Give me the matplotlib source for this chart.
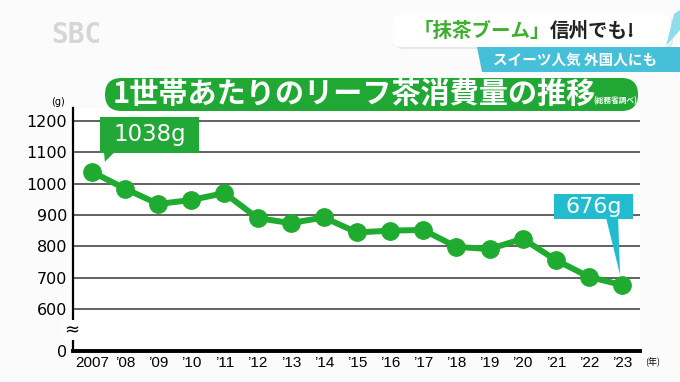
import matplotlib
matplotlib.use('Agg')
import matplotlib.pyplot as plt
from matplotlib.patches import FancyBboxPatch, Polygon

years = ['2007', '’08', '’09', '’10', '’11', '’12', '’13', '’14', '’15',
         '’16', '’17', '’18', '’19', '’20', '’21', '’22', '’23']
values = [1038, 984, 935, 948, 970, 890, 874, 892, 844,
          850, 852, 798, 791, 824, 756, 702, 676]
yticks = [600, 700, 800, 900, 1000, 1100, 1200]
ybottom = 466  # shown as 0 (broken axis)

JP = ['Noto Sans CJK JP', 'DejaVu Sans']
green = '#1fab2f'
cyan = '#22bccf'

fig = plt.figure(figsize=(6.8, 3.82), dpi=100)
fig.patch.set_facecolor('#fbfbfb')

W, H = 680, 382
ax = fig.add_axes([72.7 / W, 31.3 / H, (640 - 72.7) / W, (350.7 - 108) / H])
ax.set_facecolor('white')
x = list(range(len(values)))
ax.plot(x, values, color=green, lw=4.3, marker='o', ms=12.5, zorder=3)
ax.set_xlim(-0.58, 16.54)
ax.set_ylim(ybottom, 1242)

ax.set_yticks([ybottom] + yticks, ['0'] + [str(v) for v in yticks])
ax.set_xticks(x, years)
ax.tick_params(axis='y', length=0, pad=4, labelsize=11.5)
ax.tick_params(axis='x', length=0, pad=3.5, labelsize=11)
for lab in ax.get_xticklabels():
    lab.set_family('Liberation Sans')
ax.yaxis.grid(True, color='#555555', lw=1.3)
ax.set_axisbelow(True)
for s in ['top', 'right']:
    ax.spines[s].set_visible(False)
ax.spines['left'].set_linewidth(1.6)
ax.spines['bottom'].set_linewidth(2.8)

# overlay in pixel coordinates
ov = fig.add_axes([0, 0, 1, 1])
ov.set_xlim(0, W)
ov.set_ylim(H, 0)
ov.axis('off')
ov.patch.set_visible(False)


def to_px(i, v):
    dx, dy = ax.transData.transform((i, v))
    return dx, H - dy


# axis break mark and unit labels
ov.text(71.5, 330, '≈', fontsize=13, ha='center', va='center',
        bbox=dict(facecolor='white', edgecolor='none', pad=0.5))
ov.text(58, 102, '(g)', fontsize=7, ha='center', va='center')
ov.text(653, 362, '(年)', fontsize=6.5, ha='center', va='center', family=JP)

# title pill
ov.add_patch(FancyBboxPatch((105, 78), 533, 33,
                            boxstyle='round,pad=0,rounding_size=16.5',
                            facecolor='#21a834', edgecolor='none'))
ov.text(113, 94, '1世帯あたりのリーフ茶消費量の推移', family=JP, fontsize=21,
        fontweight='bold', color='white', ha='left', va='center')
ov.text(593, 101, '(総務省調べ)', family=JP, fontsize=5.5, fontweight='bold',
        color='white', ha='left', va='center')

# callout for first value
px0, py0 = to_px(0, values[0])
ov.add_patch(FancyBboxPatch((px0 + 8, py0 - 55), 99, 36,
                            boxstyle='square,pad=0', facecolor='#22a836',
                            edgecolor='none'))
ov.add_patch(Polygon([(px0 + 12, py0 - 20), (px0 + 23, py0 - 20),
                      (px0 + 13, py0 - 10)], facecolor='#22a836',
                     edgecolor='none'))
ov.text(px0 + 57.5, py0 - 37, f'{values[0]}g', fontsize=16.5, color='white',
        ha='center', va='center')

# callout for last value
px1, py1 = to_px(len(values) - 1, values[-1])
ov.add_patch(FancyBboxPatch((px1 - 68, py1 - 91), 79, 25,
                            boxstyle='square,pad=0', facecolor=cyan,
                            edgecolor='none'))
ov.add_patch(Polygon([(px1 - 16, py1 - 67), (px1 - 4, py1 - 67),
                      (px1 - 2, py1 - 10)], facecolor=cyan, edgecolor='none'))
ov.text(px1 - 28.5, py1 - 78, f'{values[-1]}g', fontsize=16, color='white',
        ha='center', va='center')

# TV overlays
ov.text(76, 35, 'SBC', fontsize=20, fontweight='bold', color='#d6d6d6',
        ha='center', va='center', family='DejaVu Sans Mono')
ov.add_patch(FancyBboxPatch((395, 16), 278, 33,
                            boxstyle='round,pad=0,rounding_size=8',
                            facecolor='#cccccc', edgecolor='none', alpha=0.4))
ov.add_patch(FancyBboxPatch((393, 14), 278, 33,
                            boxstyle='round,pad=0,rounding_size=8',
                            facecolor='white', edgecolor='none'))
ov.add_patch(Polygon([(477, 47), (680, 47), (680, 72), (482, 72)],
                     facecolor='#45c0d8', edgecolor='none'))
ov.add_patch(Polygon([(674, 14), (680, 10), (680, 30), (666, 46)],
                     facecolor='#8fdcea', edgecolor='none'))
ov.text(414, 31, '「抹茶ブーム」', family=JP, fontsize=14, fontweight='bold',
        color='#3caf2c', ha='left', va='center')
ov.text(550, 31, '信州でも!', family=JP, fontsize=14, fontweight='bold',
        color='#222222', ha='left', va='center')
ov.text(575, 60, 'スイーツ人気 外国人にも', family=JP, fontsize=10.5,
        fontweight='bold', color='white', ha='center', va='center')

fig.savefig('out.png', dpi=100, facecolor=fig.get_facecolor())
